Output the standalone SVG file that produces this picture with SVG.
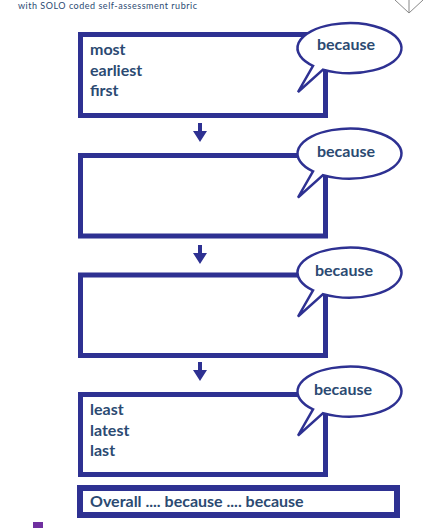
<svg xmlns="http://www.w3.org/2000/svg" width="430" height="528" viewBox="0 0 430 528">
<defs>
<style>
.box{fill:#fff;stroke:#2E3192;stroke-width:5}
.bub{fill:#fff;stroke:#2E3192;stroke-width:2.5;stroke-linejoin:miter}
.t{font-family:Lato,"Open Sans",sans-serif;font-weight:bold;font-size:16px;fill:#2B4A72}
.bt{font-family:Lato,"Open Sans",sans-serif;font-weight:bold;font-size:16px;fill:#2B4A72;text-anchor:middle}
.arr{fill:#2E3192}
.hdr{font-family:Lato,"Open Sans",sans-serif;font-size:9px;fill:#2B4A72}
</style>
<path id="bubble" d="M 313,18.9 L 298,45 L 323,22.6 A 52 25 0 1 0 313,18.9 Z"/>
<path id="arrow" d="M 198,0 H 202 V 8 H 207 L 200,19 L 193,8 H 198 Z"/>
</defs>
<rect width="430" height="528" fill="#fff"/>
<text class="hdr" x="18" y="9" textLength="179">with SOLO coded self-assessment rubric</text>
<g id="logo" stroke="#888" stroke-width="1" fill="none">
<polyline points="395,0 409,13 423,0"/>
<line x1="409" y1="0" x2="409" y2="13"/>
</g>
<g id="connectors">
<use href="#arrow" class="arr" x="0" y="123"/>
<use href="#arrow" class="arr" x="0" y="245"/>
<use href="#arrow" class="arr" x="0" y="362"/>
</g>
<g id="box1">
<rect class="box" x="80.5" y="34.5" width="245" height="81"/>
<text class="t" x="90" y="55">most</text>
<text class="t" x="90" y="75.5">earliest</text>
<text class="t" x="90" y="96">first</text>
</g>
<g id="bubble1">
<use href="#bubble" class="bub" x="0" y="47"/>
<text class="bt" x="346" y="50">because</text>
</g>
<g id="box2">
<rect class="box" x="80.5" y="155.5" width="245" height="80.5"/>
</g>
<g id="bubble2">
<use href="#bubble" class="bub" x="0" y="152.5"/>
<text class="bt" x="346" y="157">because</text>
</g>
<g id="box3">
<rect class="box" x="80.5" y="275" width="245" height="80.5"/>
</g>
<g id="bubble3">
<use href="#bubble" class="bub" x="0" y="271.5"/>
<text class="bt" x="344" y="276">because</text>
</g>
<g id="box4">
<rect class="box" x="80.5" y="394.5" width="245" height="80"/>
<text class="t" x="90" y="415">least</text>
<text class="t" x="90" y="436">latest</text>
<text class="t" x="90" y="456">last</text>
</g>
<g id="bubble4">
<use href="#bubble" class="bub" x="0" y="390.5"/>
<text class="bt" x="343" y="395">because</text>
</g>
<g id="overall">
<rect x="80" y="488" width="317" height="27" fill="#fff" stroke="#2E3192" stroke-width="6"/>
<text class="t" x="90" y="507">Overall .... because .... because</text>
</g>
<rect id="legend-square" x="33" y="522" width="10" height="6" fill="#7030A0"/>
</svg>
